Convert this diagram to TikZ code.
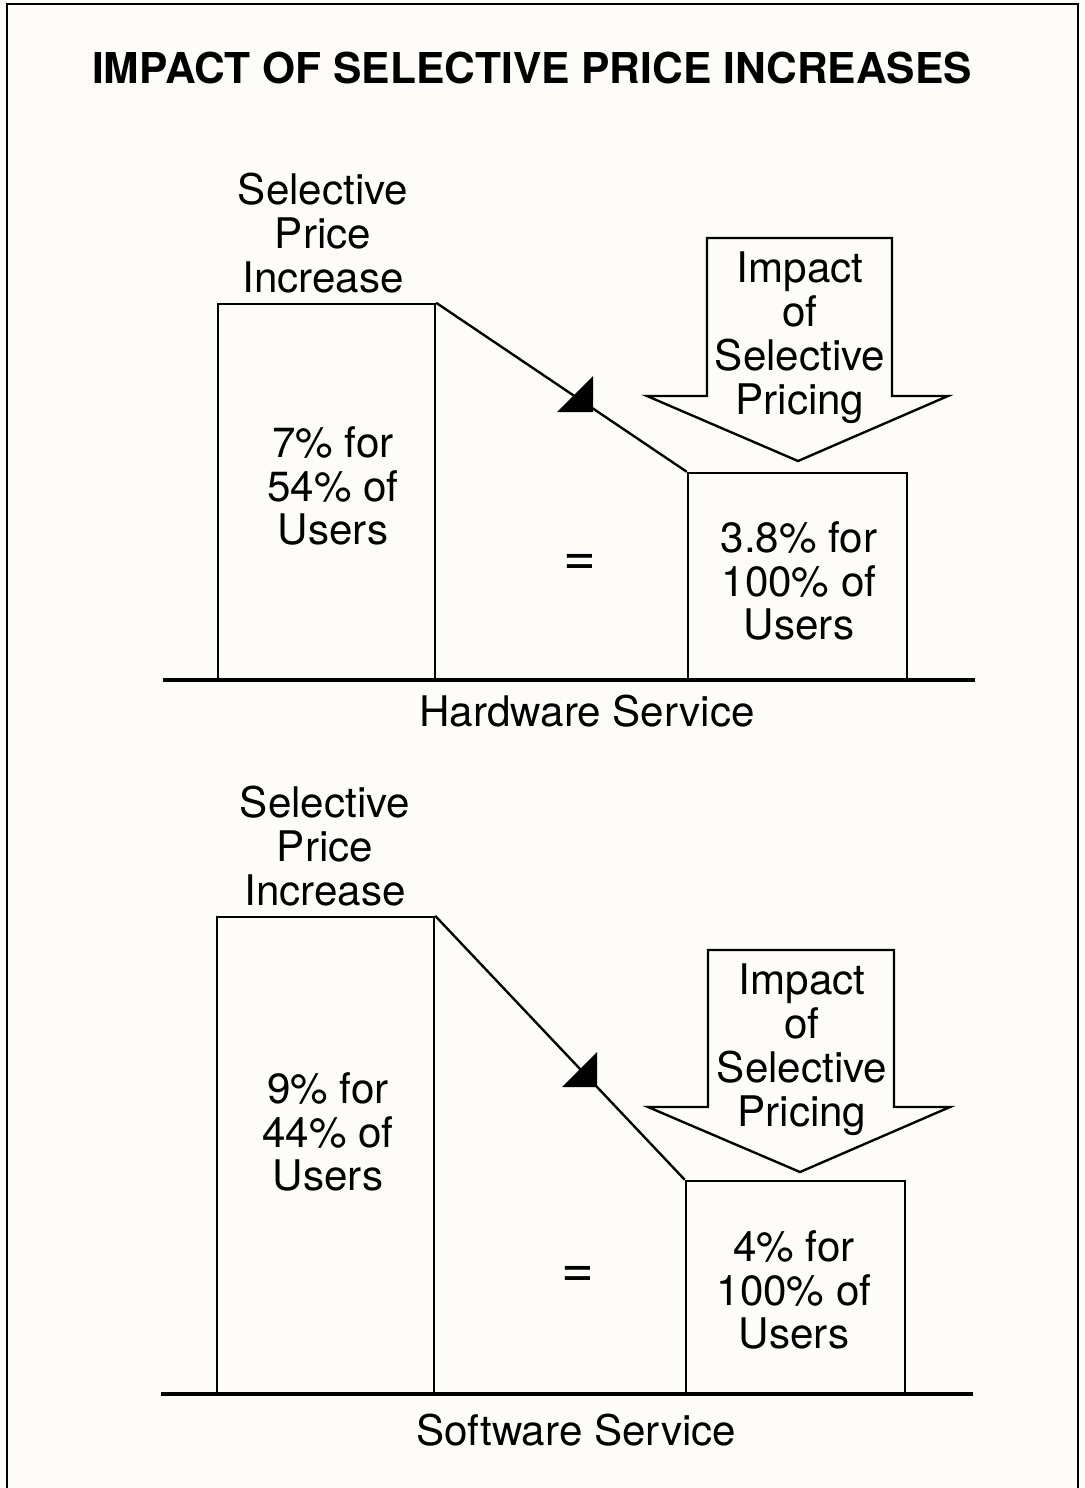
\documentclass[tikz,border=0pt]{standalone}
\usepackage{fontspec}
\setmainfont{TeX Gyre Heros}
\usetikzlibrary{fit}
\definecolor{bg}{RGB}{253,252,249}
\tikzset{
  bar/.style={draw=black, line width=1.35pt, inner sep=0pt},
  baseline/.style={line width=1.9pt},
  lbl/.style={align=center, font=\fontsize{24}{25}\selectfont, inner sep=0pt},
  eqs/.style={font=\fontsize{32}{32}\selectfont, inner sep=0pt},
  ttl/.style={font=\bfseries\fontsize{24.2}{25}\selectfont, inner sep=0pt},
  hollow/.style={draw=black, line width=1.35pt, line join=miter},
  conn/.style={draw=black, line width=1.35pt},
  tri/.style={fill=black},
  frame/.style={line width=1pt}
}
\begin{document}
\begin{tikzpicture}[x=0.02cm,y=-0.02cm]
\fill[bg] (0,0) rectangle (1085,1488);
\useasboundingbox (0,0) rectangle (1085,1488);
\draw[frame] (7,1490) -- (7,4) -- (1078,4) -- (1078,1490);

\node[ttl] (title) at (532,68) {IMPACT OF SELECTIVE PRICE INCREASES};

% ---------- top diagram ----------
\coordinate (bl1) at (163,680);
\coordinate (br1) at (975,680);
\draw[baseline] (bl1) -- (br1);
\node[bar, fit={(218,304) (435,680)}] (lb1) {};
\node[bar, fit={(688,473) (907,680)}] (rb1) {};
\draw[conn] (lb1.north east) -- (rb1.north west);
\fill[tri] (557,412) -- (593,376) -- (593,412) -- cycle;
\draw[hollow] (707,238) -- (892,238) -- (892,396) -- (948,396) -- (798,461) -- (647,396) -- (707,396) -- cycle;

\node[lbl] (sel1) at (323,233) {Selective\\Price\\Increase};
\node[lbl] (v1) at (333,486) {7\% for\\54\% of\\Users};
\node[eqs] (eq1) at (580,565) {=};
\node[lbl] (r1) at (799,581) {3.8\% for\\100\% of\\Users};
\node[lbl] (imp1) at (800,338) {Impact\\of\\Selective\\Pricing};
\node[lbl] (hw) at (587,711) {Hardware Service};

% ---------- bottom diagram ----------
\coordinate (bl2) at (161,1394);
\coordinate (br2) at (973,1394);
\draw[baseline] (bl2) -- (br2);
\node[bar, fit={(217,917) (434,1394)}] (lb2) {};
\node[bar, fit={(686,1181) (905,1394)}] (rb2) {};
\draw[conn] (lb2.north east) -- (rb2.north west);
\fill[tri] (562,1087) -- (597,1052) -- (597,1087) -- cycle;
\draw[hollow] (708,950) -- (894,950) -- (894,1107) -- (950,1107) -- (800,1172) -- (648,1107) -- (708,1107) -- cycle;

\node[lbl] (sel2) at (325,846) {Selective\\Price\\Increase};
\node[lbl] (v2) at (328,1132) {9\% for\\44\% of\\Users};
\node[eqs] (eq2) at (578,1277) {=};
\node[lbl] (r2) at (794,1290) {4\% for\\100\% of\\Users};
\node[lbl] (imp2) at (802,1050) {Impact\\of\\Selective\\Pricing};
\node[lbl] (sw) at (576,1430) {Software Service};
\end{tikzpicture}
\end{document}
